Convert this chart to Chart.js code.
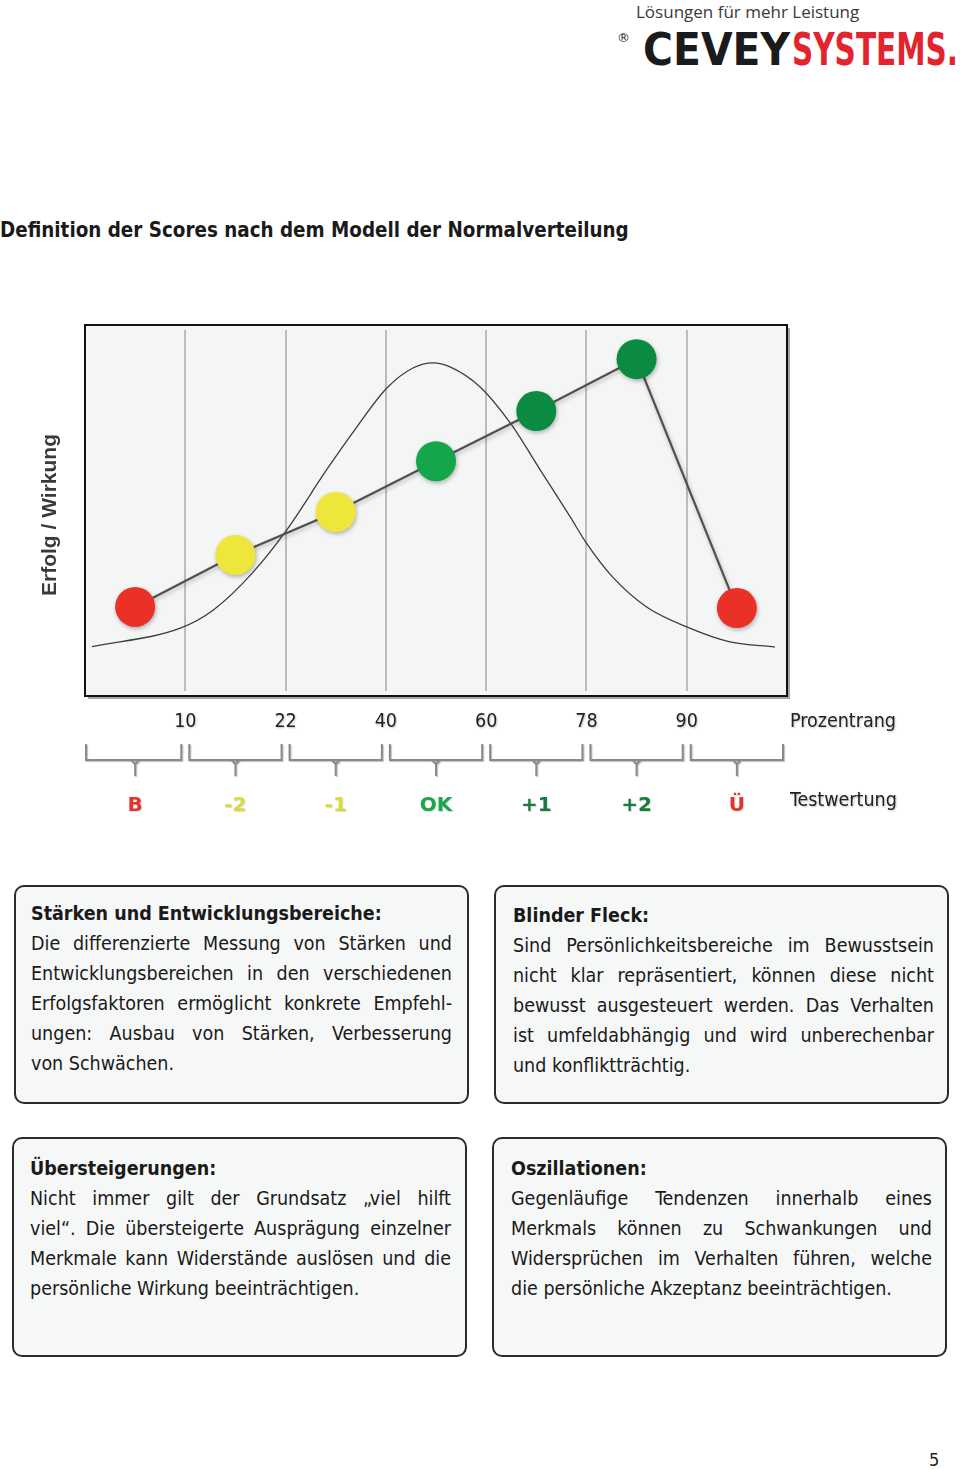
<!DOCTYPE html>
<html lang="de">
<head>
<meta charset="utf-8">
<script src="https://cdn.jsdelivr.net/npm/chart.js@4/dist/chart.umd.min.js"></script>
<style>
  html, body { margin: 0; padding: 0; background: #ffffff; }
  body { width: 960px; height: 1469px; position: relative; overflow: hidden; font-family: "DejaVu Sans Condensed", "DejaVu Sans", sans-serif; color: #1a1a1a; }
  .tagline { position: absolute; left: 636px; top: 0px; font-family: "Open Sans", sans-serif; font-size: 17px; color: #3a3a3a; line-height: 24px; white-space: nowrap; }
  .reg { position: absolute; left: 617px; top: 30px; font-family: "DejaVu Sans", sans-serif; font-size: 13px; line-height: 16px; color: #222; }
  .lw { position: absolute; top: 28px; display: inline-block; white-space: nowrap; font-family: "DejaVu Sans", sans-serif; font-weight: bold; font-size: 44px; line-height: 44px; transform-origin: 0 0; }
  .lw.c { left: 643px; color: #1b1b1b; }
  .lw.s { left: 792px; color: #e3242f; }
  .title { position: absolute; left: 0px; top: 216px; font-weight: bold; font-size: 20.4px; line-height: 28px; white-space: nowrap; color: #1a1a1a; }
  .chartwrap { position: absolute; left: 0; top: 300px; width: 960px; height: 540px; }
  .box { position: absolute; box-sizing: border-box; width: 455px; border: 2px solid #2b2b2b; border-radius: 10px; background: #f6f7f7; padding-left: 15px; }
  .box .ln { width: 421px; font-size: 19.5px; line-height: 30px; white-space: nowrap; }
  .box .j { text-align: justify; text-align-last: justify; white-space: normal; }
  .box .h { font-weight: bold; }
  .pagenum { position: absolute; left: 929px; top: 1449px; font-size: 18px; line-height: 22px; color: #222; }
</style>
</head>
<body>
<div class="tagline">Lösungen für mehr Leistung</div>
<div class="reg">®</div>
<span class="lw c" id="lc">CEVEY</span><span class="lw s" id="ls">SYSTEMS.</span>
<div class="title">Definition der Scores nach dem Modell der Normalverteilung</div>

<div class="chartwrap"><canvas id="c" width="960" height="540"></canvas></div>

<div class="box" style="left:14px; top:885px; height:219px; padding-top:12px;">
  <div class="ln h">Stärken und Entwicklungsbereiche:</div>
  <div class="ln j">Die differenzierte Messung von Stärken und</div>
  <div class="ln j">Entwicklungsbereichen in den verschiedenen</div>
  <div class="ln j">Erfolgsfaktoren ermöglicht konkrete Empfehl-</div>
  <div class="ln j">ungen: Ausbau von Stärken, Verbesserung</div>
  <div class="ln">von Schwächen.</div>
</div>
<div class="box" style="left:494px; top:885px; height:219px; padding-top:14px; padding-left:17px;">
  <div class="ln h">Blinder Fleck:</div>
  <div class="ln j">Sind Persönlichkeitsbereiche im Bewusstsein</div>
  <div class="ln j">nicht klar repräsentiert, können diese nicht</div>
  <div class="ln j">bewusst ausgesteuert werden. Das Verhalten</div>
  <div class="ln j">ist umfeldabhängig und wird unberechenbar</div>
  <div class="ln">und konfliktträchtig.</div>
</div>
<div class="box" style="left:12px; top:1137px; height:220px; padding-top:15px; padding-left:16px;">
  <div class="ln h">Übersteigerungen:</div>
  <div class="ln j">Nicht immer gilt der Grundsatz „viel hilft</div>
  <div class="ln j">viel“. Die übersteigerte Ausprägung einzelner</div>
  <div class="ln j">Merkmale kann Widerstände auslösen und die</div>
  <div class="ln">persönliche Wirkung beeinträchtigen.</div>
</div>
<div class="box" style="left:492px; top:1137px; height:220px; padding-top:15px; padding-left:17px;">
  <div class="ln h">Oszillationen:</div>
  <div class="ln j">Gegenläufige Tendenzen innerhalb eines</div>
  <div class="ln j">Merkmals können zu Schwankungen und</div>
  <div class="ln j">Widersprüchen im Verhalten führen, welche</div>
  <div class="ln">die persönliche Akzeptanz beeinträchtigen.</div>
</div>
<div class="pagenum">5</div>

<script>
// ---- data ----
const percentileLabels = ['10', '22', '40', '60', '78', '90'];
const scoreLabels = ['B', '-2', '-1', 'OK', '+1', '+2', 'Ü'];
const scoreLabelColors = ['#e4352b', '#dcd93c', '#dcd93c', '#1aa64a', '#167c3c', '#167c3c', '#e4352b'];
const scoreValues = [24.0, 38.0, 49.6, 63.3, 76.8, 90.8, 23.7];
const scorePointColors = ['#ea3128', '#eee63a', '#eee63a', '#13a64b', '#0b8a41', '#0b8a41', '#ea3128'];
const curveX = [0.07, 0.95, 1.28, 1.67, 2.01, 2.41, 2.71, 3.01, 3.27, 3.47, 3.64, 3.94, 4.24, 4.54, 4.84, 5.00, 5.26, 5.60, 6.03, 6.43, 6.88];
const curveY = [13.3, 18.3, 23.2, 33.2, 44.7, 61.0, 72.5, 83.0, 88.4, 89.8, 88.7, 83.3, 73.6, 60.9, 48.2, 41.2, 32.1, 24.0, 18.3, 14.6, 13.2];
const axisTitle = 'Erfolg / Wirkung';
const percentileTitle = 'Prozentrang';
const scoreTitle = 'Testwertung';

// fit logo words to their widths in the reference
function fitWord(id, target) {
  const el = document.getElementById(id);
  const w = el.getBoundingClientRect().width;
  if (w > 0) el.style.transform = 'scaleX(' + (target / w) + ')';
}
fitWord('lc', 147);
fitWord('ls', 166);

const scorePoints = scoreValues.map((v, i) => ({ x: i + 0.5, y: v }));
const curvePoints = curveX.map((x, i) => ({ x: x, y: curveY[i] }));

const decor = {
  id: 'decor',
  beforeDraw(chart) {
    const { ctx, chartArea: a, scales: { x } } = chart;
    ctx.save();
    ctx.fillStyle = 'rgba(0,0,0,0.35)';
    ctx.fillRect(a.left + 3, a.top + 3, a.right - a.left, a.bottom - a.top);
    ctx.fillStyle = '#f4f5f5';
    ctx.fillRect(a.left, a.top, a.right - a.left, a.bottom - a.top);
    ctx.strokeStyle = '#bdbdbd';
    ctx.lineWidth = 2;
    percentileLabels.forEach((_, i) => {
      const px = Math.round(x.getPixelForValue(i + 1));
      ctx.beginPath();
      ctx.moveTo(px, a.top + 5);
      ctx.lineTo(px, a.bottom - 5);
      ctx.stroke();
    });
    ctx.restore();
  },
  beforeDatasetDraw(chart, args) {
    if (args.index === 0) {
      const ctx = chart.ctx;
      ctx.save();
      ctx.shadowColor = 'rgba(0,0,0,0.28)';
      ctx.shadowBlur = 4;
      ctx.shadowOffsetX = 1;
      ctx.shadowOffsetY = 2;
    }
  },
  afterDatasetDraw(chart, args) {
    if (args.index === 0) chart.ctx.restore();
  },
  afterDraw(chart) {
    const { ctx, chartArea: a, scales: { x } } = chart;
    ctx.save();
    ctx.strokeStyle = '#111';
    ctx.lineWidth = 2;
    ctx.strokeRect(a.left, a.top, a.right - a.left, a.bottom - a.top);

    ctx.save();
    ctx.translate(50, 215);
    ctx.rotate(-Math.PI / 2);
    ctx.fillStyle = '#3a3a3a';
    ctx.font = 'bold 21px "Liberation Sans", Arial, sans-serif';
    ctx.textAlign = 'center';
    ctx.textBaseline = 'middle';
    ctx.fillText(axisTitle, 0, 0);
    ctx.restore();

    ctx.font = '19.5px "DejaVu Sans Condensed", "DejaVu Sans", sans-serif';
    ctx.textBaseline = 'middle';
    ctx.shadowColor = 'rgba(0,0,0,0.25)';
    ctx.shadowBlur = 2;
    ctx.shadowOffsetX = 1;
    ctx.shadowOffsetY = 1;
    ctx.fillStyle = '#222';
    ctx.textAlign = 'center';
    percentileLabels.forEach((t, i) => {
      ctx.fillText(t, x.getPixelForValue(i + 1), a.bottom + 26);
    });
    ctx.textAlign = 'left';
    ctx.fillText(percentileTitle, a.right + 3, a.bottom + 26);
    ctx.fillText(scoreTitle, a.right + 3, a.bottom + 105);

    ctx.shadowBlur = 1;
    ctx.strokeStyle = '#8a8a8a';
    ctx.lineWidth = 2;
    const yTop = a.bottom + 48, yMid = a.bottom + 64, yBot = a.bottom + 80;
    scoreLabels.forEach((_, i) => {
      const l = x.getPixelForValue(i) + (i === 0 ? 1 : 4);
      const r = x.getPixelForValue(i + 1) - 4;
      const m = x.getPixelForValue(i + 0.5);
      ctx.beginPath();
      ctx.moveTo(l, yTop);
      ctx.lineTo(l, yMid);
      ctx.lineTo(r, yMid);
      ctx.lineTo(r, yTop);
      ctx.moveTo(m - 4, yMid);
      ctx.lineTo(m, yMid + 4);
      ctx.lineTo(m + 4, yMid);
      ctx.moveTo(m, yMid + 3);
      ctx.lineTo(m, yBot);
      ctx.stroke();
    });

    ctx.shadowColor = 'rgba(0,0,0,0.15)';
    ctx.shadowBlur = 1;
    ctx.font = 'bold 20px "DejaVu Sans", sans-serif';
    ctx.textAlign = 'center';
    scoreLabels.forEach((t, i) => {
      ctx.fillStyle = scoreLabelColors[i];
      ctx.fillText(t, x.getPixelForValue(i + 0.5), a.bottom + 110);
    });
    ctx.restore();
  }
};

new Chart(document.getElementById('c'), {
  type: 'scatter',
  data: {
    datasets: [
      {
        label: 'Testwertung',
        data: scorePoints,
        showLine: true,
        borderColor: '#505050',
        borderWidth: 2.2,
        pointRadius: 20,
        pointHoverRadius: 20,
        pointBorderWidth: 0,
        pointBackgroundColor: scorePointColors,
        tension: 0
      },
      {
        label: 'Normalverteilung',
        data: curvePoints,
        showLine: true,
        borderColor: '#3d3d3d',
        borderWidth: 1.3,
        pointRadius: 0,
        cubicInterpolationMode: 'monotone'
      }
    ]
  },
  options: {
    responsive: false,
    animation: false,
    events: [],
    layout: { padding: { left: 85, right: 173, top: 25, bottom: 144 } },
    plugins: { legend: { display: false }, tooltip: { enabled: false } },
    scales: {
      x: { type: 'linear', min: 0, max: 7, display: false },
      y: { type: 'linear', min: 0, max: 100, display: false }
    }
  },
  plugins: [decor]
});
</script>
</body>
</html>
